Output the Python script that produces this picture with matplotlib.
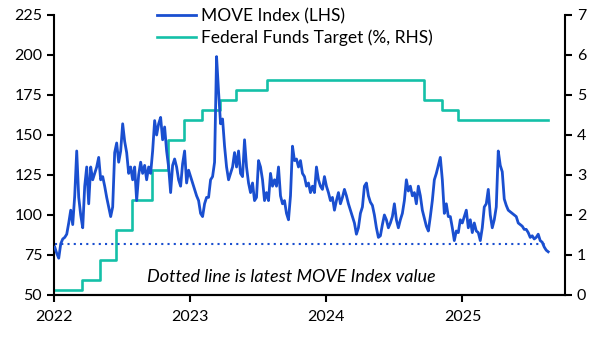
import matplotlib
matplotlib.use("Agg")
import matplotlib.pyplot as plt
import matplotlib.dates as mdates
import pandas as pd

plt.rcParams['font.family'] = ['Lato', 'DejaVu Sans']

# MOVE index, roughly weekly readings from Jan 2022 to Aug 2025
move = [
    80, 76, 73, 82, 85, 86, 88, 95, 103, 94, 112, 140, 111, 100, 92, 118, 130, 107, 130, 122,
    126, 130, 136, 122, 124, 118, 111, 105, 99, 105, 139, 145, 133, 140, 157, 146, 139, 126, 130, 122,
    130, 109, 125, 133, 126, 131, 122, 130, 126, 140, 159, 150, 157, 161, 147, 155, 140, 130, 114, 131,
    135, 130, 122, 118, 132, 140, 120, 128, 124, 120, 116, 112, 109, 101, 99, 107, 111, 111, 122, 124,
    133, 199, 177, 157, 160, 143, 130, 122, 126, 130, 139, 130, 140, 126, 124, 147, 130, 120, 114, 120,
    109, 111, 134, 130, 122, 109, 114, 109, 126, 118, 122, 118, 130, 112, 107, 109, 101, 97, 112, 143,
    134, 135, 130, 134, 126, 124, 118, 120, 114, 118, 114, 130, 122, 118, 116, 124, 118, 114, 109, 111,
    103, 109, 114, 107, 111, 116, 112, 107, 103, 99, 95, 88, 92, 101, 105, 118, 120, 112, 108, 106,
    100, 92, 86, 87, 94, 100, 97, 92, 95, 99, 107, 97, 92, 97, 101, 109, 122, 115, 118, 112,
    114, 107, 118, 112, 103, 98, 93, 90, 99, 109, 122, 126, 131, 136, 122, 101, 107, 99, 99, 92,
    84, 90, 89, 97, 95, 99, 103, 92, 97, 89, 95, 90, 89, 84, 92, 105, 107, 116, 100, 92,
    97, 105, 140, 131, 127, 110, 106, 103, 102, 101, 100, 99, 95, 94, 93, 91, 91, 89, 86, 87,
    85, 86, 88, 84, 83, 80, 78, 77,
]
move_dates = pd.date_range('2022-01-03', '2025-08-19', periods=len(move))
latest_move = 82

# Fed funds target range midpoint, changes at each FOMC decision
fed_dates = pd.to_datetime([
    '2022-01-01', '2022-03-17', '2022-05-05', '2022-06-16', '2022-07-28', '2022-09-22',
    '2022-11-03', '2022-12-15', '2023-02-02', '2023-03-23', '2023-05-04', '2023-07-27',
    '2024-09-19', '2024-11-08', '2024-12-19', '2025-08-19',
])
fed_rate = [0.125, 0.375, 0.875, 1.625, 2.375, 3.125, 3.875, 4.375, 4.625, 4.875, 5.125, 5.375,
            4.875, 4.625, 4.375, 4.375]

blue = '#1a4fd0'
teal = '#14c0a8'

fig = plt.figure(figsize=(6.04, 3.4), dpi=100)
ax = fig.add_axes([0.0894, 0.1324, 0.846, 0.8235])
ax2 = ax.twinx()

ax.plot([move_dates[0], move_dates[-1]], [latest_move, latest_move], color=blue, lw=1.5,
        linestyle=(0, (1, 2)), zorder=2)
l1, = ax.plot(move_dates, move, color=blue, lw=2.0, zorder=3)
l2, = ax2.plot(fed_dates, fed_rate, color=teal, lw=1.9, drawstyle='steps-post')

ax.set_zorder(ax2.get_zorder() + 1)
ax.patch.set_visible(False)

ax.set_ylim(50, 225)
ax.set_yticks(range(50, 226, 25))
ax2.set_ylim(0, 7)
ax2.set_yticks(range(0, 8))
ax.set_xlim(pd.Timestamp('2022-01-01'), pd.Timestamp('2025-10-03'))
ax.xaxis.set_major_locator(mdates.YearLocator())
ax.xaxis.set_major_formatter(mdates.DateFormatter('%Y'))

for a in (ax, ax2):
    a.spines['top'].set_visible(False)
    for s in a.spines.values():
        s.set_linewidth(1.5)
    a.tick_params(width=1.5, length=5, labelsize=11.5, direction='out')
ax.spines['right'].set_visible(False)
ax2.spines['left'].set_visible(False)
ax.tick_params(axis='x', pad=6)

ax.text(0.464, 0.064, 'Dotted line is latest MOVE Index value', transform=ax.transAxes,
        ha='center', va='center', style='italic', fontsize=13)

fig.legend([l1, l2], ['MOVE Index (LHS)', 'Federal Funds Target (%, RHS)'],
           loc='upper left', bbox_to_anchor=(157 / 604, 1 - 8 / 340), frameon=False,
           fontsize=12.5, handlelength=2.25, handletextpad=0.3, labelspacing=0.3,
           borderaxespad=0, borderpad=0)

fig.savefig('out.png', dpi=100)
